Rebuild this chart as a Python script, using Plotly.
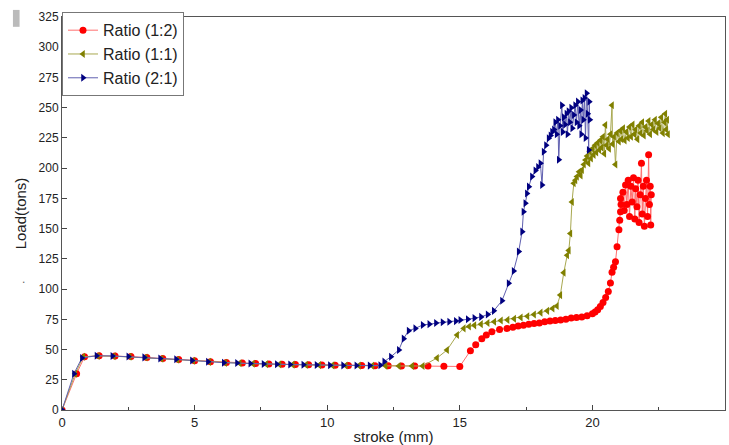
import plotly.graph_objects as go

# ---- Data ----
red_x = [0, 0.55, 0.85, 1.4, 2.0, 2.6, 3.2, 3.8, 4.4, 5.0, 5.6, 6.2, 6.8, 7.3, 7.8, 8.3, 8.8, 9.3,
         9.8, 10.3, 10.8, 11.3, 11.8, 12.3, 12.8, 13.3, 13.8, 14.4, 15.0,
         15.4, 15.6, 15.83, 16.0, 16.21, 16.5, 16.78, 17.0, 17.2, 17.4, 17.6, 17.8, 18.0, 18.2, 18.4,
         18.6, 18.8, 19.0, 19.2, 19.4, 19.6, 19.8, 20.0, 20.1, 20.2, 20.3, 20.4, 20.5, 20.6, 20.68,
         20.74, 20.8, 20.87, 20.93, 21.0, 21.03, 21.06, 21.08, 21.06,
         21.15, 21.2, 21.25, 21.3, 21.35, 21.4, 21.45, 21.5, 21.55, 21.6, 21.63, 21.68, 21.72, 21.76,
         21.8, 21.85, 21.88, 21.92, 21.96, 22.0, 22.04, 22.08, 22.12, 22.15, 22.18, 22.2, 22.22]
red_y = [0, 30, 44, 44.8, 44.6, 44.2, 43.5, 42.5, 41.8, 40.8, 40.0, 39.2, 38.8, 38.4, 38.0, 37.8, 37.6, 37.4,
         37.2, 37.0, 36.8, 36.8, 36.6, 36.5, 36.4, 36.4, 36.3, 36.2, 36.0,
         49, 54, 59, 62, 64.8, 66.5, 67.5, 68.5, 69.5, 70, 71, 71.5, 72, 73, 73.5,
         74, 74.5, 75, 76, 76.5, 77, 78, 79.5, 81, 83, 85.5, 89, 93, 98, 105,
         114, 118, 122.6, 135, 149, 157, 164, 170, 175,
         180, 165, 186, 170, 190, 160, 185, 172, 192, 158, 183, 168, 190, 155,
         178, 204, 162, 185, 152, 175, 190, 160, 211, 170, 185, 153, 178]

olive_x = [0, 0.5, 0.8, 1.35, 1.95, 2.55, 3.15, 3.75, 4.35, 4.95, 5.55, 6.15, 6.7, 7.2, 7.7, 8.2, 8.7, 9.2,
           9.7, 10.2, 10.7, 11.2, 11.7, 12.2, 12.7, 13.2, 13.6,
           14.14, 14.52, 14.9, 15.15, 15.35, 15.55, 15.8, 16.05, 16.3, 16.55, 16.8, 17.05, 17.3, 17.55,
           17.8, 18.05, 18.3, 18.5, 18.66, 18.79, 18.92, 19.05, 19.11, 19.17, 19.23, 19.3, 19.36, 19.42,
           19.5, 19.56, 19.61, 19.68, 19.74,
           19.8, 19.85, 19.9, 19.95, 20.0, 20.05, 20.1, 20.15, 20.2, 20.26, 20.3, 20.35, 20.4, 20.45,
           20.49, 20.53, 20.58, 20.63, 20.68, 20.74, 20.76, 20.82, 20.87, 20.93, 21.0, 21.05, 21.1,
           21.16, 21.22, 21.28, 21.34, 21.4, 21.46, 21.52, 21.58, 21.63, 21.7, 21.76, 21.82, 21.88,
           21.94, 22.0, 22.06, 22.12, 22.18, 22.24, 22.3, 22.36, 22.42, 22.48, 22.54, 22.6, 22.66,
           22.72, 22.75, 22.78, 22.82, 22.85]
olive_y = [0, 30, 44, 44.7, 44.5, 44.0, 43.4, 42.4, 41.6, 40.7, 39.8, 39.0, 38.7, 38.3, 37.9, 37.7, 37.5, 37.3,
           37.1, 36.9, 36.8, 36.7, 36.6, 36.5, 36.4, 36.4, 36.4,
           43, 49.6, 62, 67.5, 69, 70, 71, 72, 73, 74, 74.5, 75.5, 76.5, 77.5,
           79, 80.5, 82, 84, 86, 95, 113.6, 128, 132, 146, 172, 187.5, 190, 193,
           197, 194, 198.5, 203, 206.8,
           210, 204, 214, 208, 216, 211, 219, 213, 221, 215, 223, 217, 226, 212,
           235.7, 219, 224, 216, 228, 252, 220, 226, 203, 229, 222, 231, 224,
           233, 223, 230, 225, 234, 226, 236, 228, 232, 224, 235, 229, 238,
           227, 234, 231, 239, 228, 236, 232, 240, 230, 237, 233, 242, 229,
           238, 245, 232, 240, 228]

blue_x = [0, 0.45, 0.75, 1.3, 1.9, 2.5, 3.1, 3.7, 4.3, 4.9, 5.5, 6.1, 6.6, 7.1, 7.6, 8.1, 8.6, 9.1,
          9.6, 10.1, 10.6, 11.1, 11.6, 12.0, 12.15, 12.4, 12.7, 12.88, 13.07, 13.32, 13.6, 13.85, 14.1,
          14.35, 14.6, 14.85, 15.02, 15.3, 15.55, 15.8, 16.05, 16.28, 16.59, 16.84, 17.03, 17.22, 17.35,
          17.4, 17.47, 17.53, 17.6, 17.72, 17.85, 17.95, 18.04, 18.1, 18.16, 18.25, 18.35, 18.42, 18.48,
          18.55, 18.6, 18.65, 18.7, 18.73, 18.78, 18.85, 18.88, 18.92, 18.97, 19.02, 19.06, 19.1, 19.15,
          19.2, 19.24, 19.3, 19.35, 19.4, 19.45, 19.5, 19.55, 19.58, 19.62, 19.66, 19.7, 19.74, 19.78,
          19.82, 19.86, 19.88, 19.9]
blue_y = [0, 30, 43, 44.9, 44.7, 44.2, 43.5, 42.6, 41.9, 40.9, 39.9, 39.1, 38.8, 38.4, 38.0, 37.8, 37.6, 37.4,
          37.2, 37.0, 36.9, 36.8, 36.7, 37.0, 40, 44, 49.6, 59, 65.6, 67.5, 70.3, 71, 72,
          72.5, 73, 73.5, 74.4, 75, 76, 77, 79, 82, 90.4, 104.8, 115, 131, 147.5,
          164, 171, 179, 184.7, 193, 198, 201, 204, 186, 213.6, 219, 224.7, 227, 230,
          232, 238, 228, 240, 207, 235, 252, 230, 242, 236, 245, 228, 247, 238,
          250, 233, 244, 252, 238, 255, 235, 248, 228, 256, 240, 258, 225, 262,
          245, 215, 255, 240]

series = [
    ("Ratio (1:2)", red_x, red_y, "#ff0000", "#ff7070", "circle"),
    ("Ratio (1:1)", olive_x, olive_y, "#808000", "#a8a850", "triangle-left"),
    ("Ratio (2:1)", blue_x, blue_y, "#000080", "#6060b0", "triangle-right"),
]

FONT = "Arial, Liberation Sans, sans-serif"

fig = go.Figure()
for name, xs, ys, col, lcol, sym in series:
    fig.add_trace(go.Scatter(
        x=xs, y=ys, name=name, mode="lines+markers",
        line=dict(color=lcol, width=1),
        marker=dict(color=col, symbol=sym, size=7, line=dict(width=0)),
    ))

fig.update_layout(
    width=729, height=445,
    margin=dict(l=62, r=4, t=17, b=35),
    paper_bgcolor="white", plot_bgcolor="white",
    font=dict(family=FONT, color="#222222", size=12),
    showlegend=True,
    legend=dict(
        x=0, y=1.012, xanchor="left", yanchor="top",
        bgcolor="rgba(255,255,255,1)", bordercolor="#777777", borderwidth=1,
        font=dict(family=FONT, size=16, color="#222222"),
        tracegroupgap=0, itemwidth=30,
    ),
    xaxis=dict(
        range=[0, 25], tickvals=[0, 5, 10, 15, 20, 25],
        ticks="inside", ticklen=5, tickcolor="#444444",
        minor=dict(tickvals=[2.5, 7.5, 12.5, 17.5, 22.5], ticks="inside", ticklen=3, tickcolor="#444444"),
        showline=True, linecolor="#555555", linewidth=1, mirror=True,
        showgrid=False, zeroline=False,
        tickfont=dict(size=13, color="#222222"),
        title=dict(text="stroke (mm)", font=dict(size=15, color="#222222"), standoff=2),
    ),
    yaxis=dict(
        range=[0, 325], tickvals=list(range(0, 326, 25)),
        ticks="inside", ticklen=5, tickcolor="#444444",
        showline=True, linecolor="#555555", linewidth=1, mirror=True,
        showgrid=False, zeroline=False,
        tickfont=dict(size=12, color="#222222"),
        title=dict(text="Load(tons)", font=dict(size=15, color="#222222"), standoff=8),
    ),
    shapes=[dict(type="rect", xref="paper", yref="paper",
                 x0=-0.074, x1=-0.064, y0=0.975, y1=1.018,
                 fillcolor="#bbbbbb", line=dict(width=0))],
    annotations=[dict(text=".", xref="paper", yref="paper", x=-0.063, y=0.31,
                      showarrow=False, font=dict(size=12, color="#666666"))],
)

fig.write_html("out.html")
